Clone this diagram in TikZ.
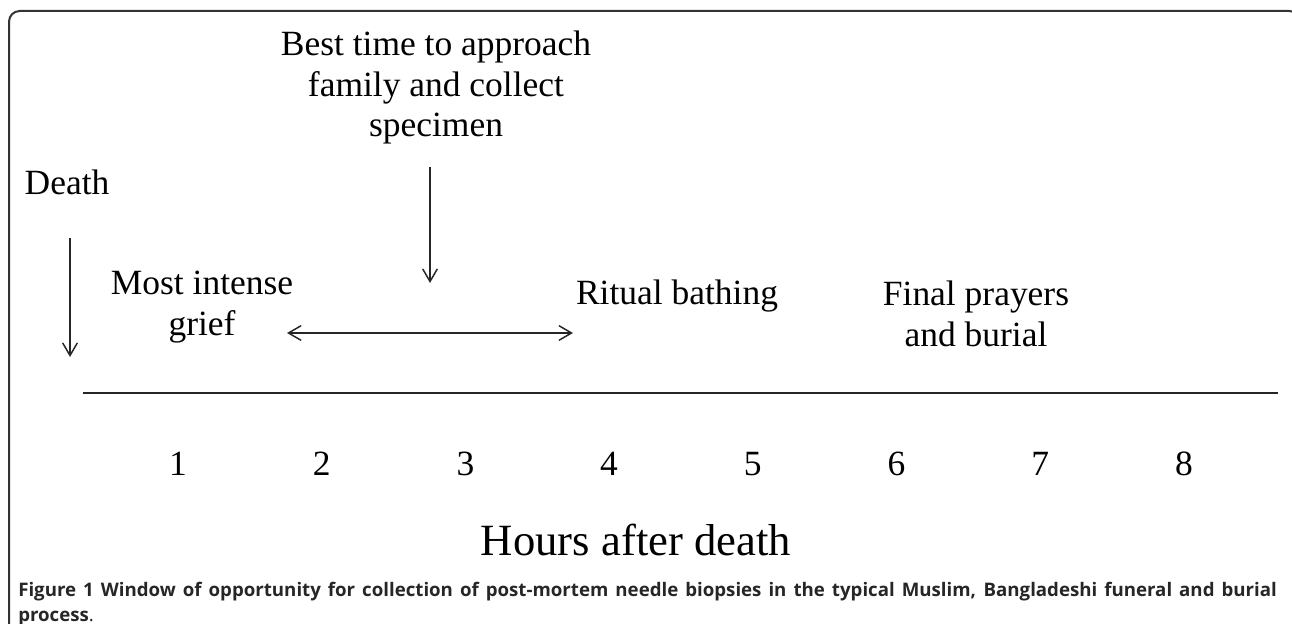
\documentclass[tikz,border=0pt]{standalone}
\usepackage{fontspec}
\setmainfont{Liberation Serif}
\newfontfamily\capfont{Open Sans}
\usepackage{tikz}
\usetikzlibrary{arrows.meta}

\tikzset{
  lbl/.style={font=\fontsize{26.6}{30.5}\selectfont, align=center, inner sep=0pt, anchor=base},
  barb/.style={line width=1.1pt, -{Straight Barb[length=9.5pt,width=11pt]}, draw=black!85},
}

\begin{document}
\begin{tikzpicture}[x=0.75pt,y=0.75pt,yscale=-1,xscale=1]
\useasboundingbox (0,0) rectangle (1292,624);
\clip (0,0) rectangle (1292,624);

%Shape: Rectangle (frame)
\draw [line width=1.5pt, draw=black!80, rounded corners=8pt] (9,11) rectangle (1300,660) ;

% Text Node
\node [lbl] (best) at (436,137) {Best time to approach\\family and collect\\specimen};
% Text Node
\node [lbl] (death) at (67,195) {Death};
% Text Node
\node [lbl] (grief) at (202,335) {Most intense\\grief};
% Text Node
\node [lbl] (bathing) at (677,304) {Ritual bathing};
% Text Node
\node [lbl] (burial) at (976,346) {Final prayers\\and burial};
% Text Node
\node [lbl, font=\fontsize{33.5}{36}\selectfont] (hours) at (636,555) {Hours after death};

% hour numbers
\foreach \n in {1,...,8}
  \node [lbl] (h\n) at ({178+143.7*(\n-1)},475) {\n};

\coordinate (deathtop) at (70,238);
\coordinate (deathtip) at (70,357);
\coordinate (besttop) at (430,167);
\coordinate (besttip) at (430,283);
\coordinate (windowL) at (287,333);
\coordinate (windowR) at (573,333);
\coordinate (axisL) at (83,393);
\coordinate (axisR) at (1278,393);

%Straight Lines
\draw [barb] (deathtop) -- (deathtip) ;
%Straight Lines
\draw [barb] (besttop) -- (besttip) ;
%Straight Lines
\draw [barb, {Straight Barb[length=9.5pt,width=11pt]}-{Straight Barb[length=9.5pt,width=11pt]}] (windowL) -- (windowR) ;
%Straight Lines
\draw [line width=1.1pt, draw=black!85] (axisL) -- (axisR) ;

% Caption
\node [anchor=base west, inner sep=0pt, text=black!85] (caption) at (18,596)
  {\parbox[t]{944pt}{\capfont\fontsize{14}{15}\selectfont\baselineskip=19pt\hyphenpenalty=10000\exhyphenpenalty=10000
  \textbf{Figure 1 Window of opportunity for collection of post-mortem needle biopsies in the typical Muslim, Bangladeshi funeral and burial process}.\par}};

\end{tikzpicture}
\end{document}
